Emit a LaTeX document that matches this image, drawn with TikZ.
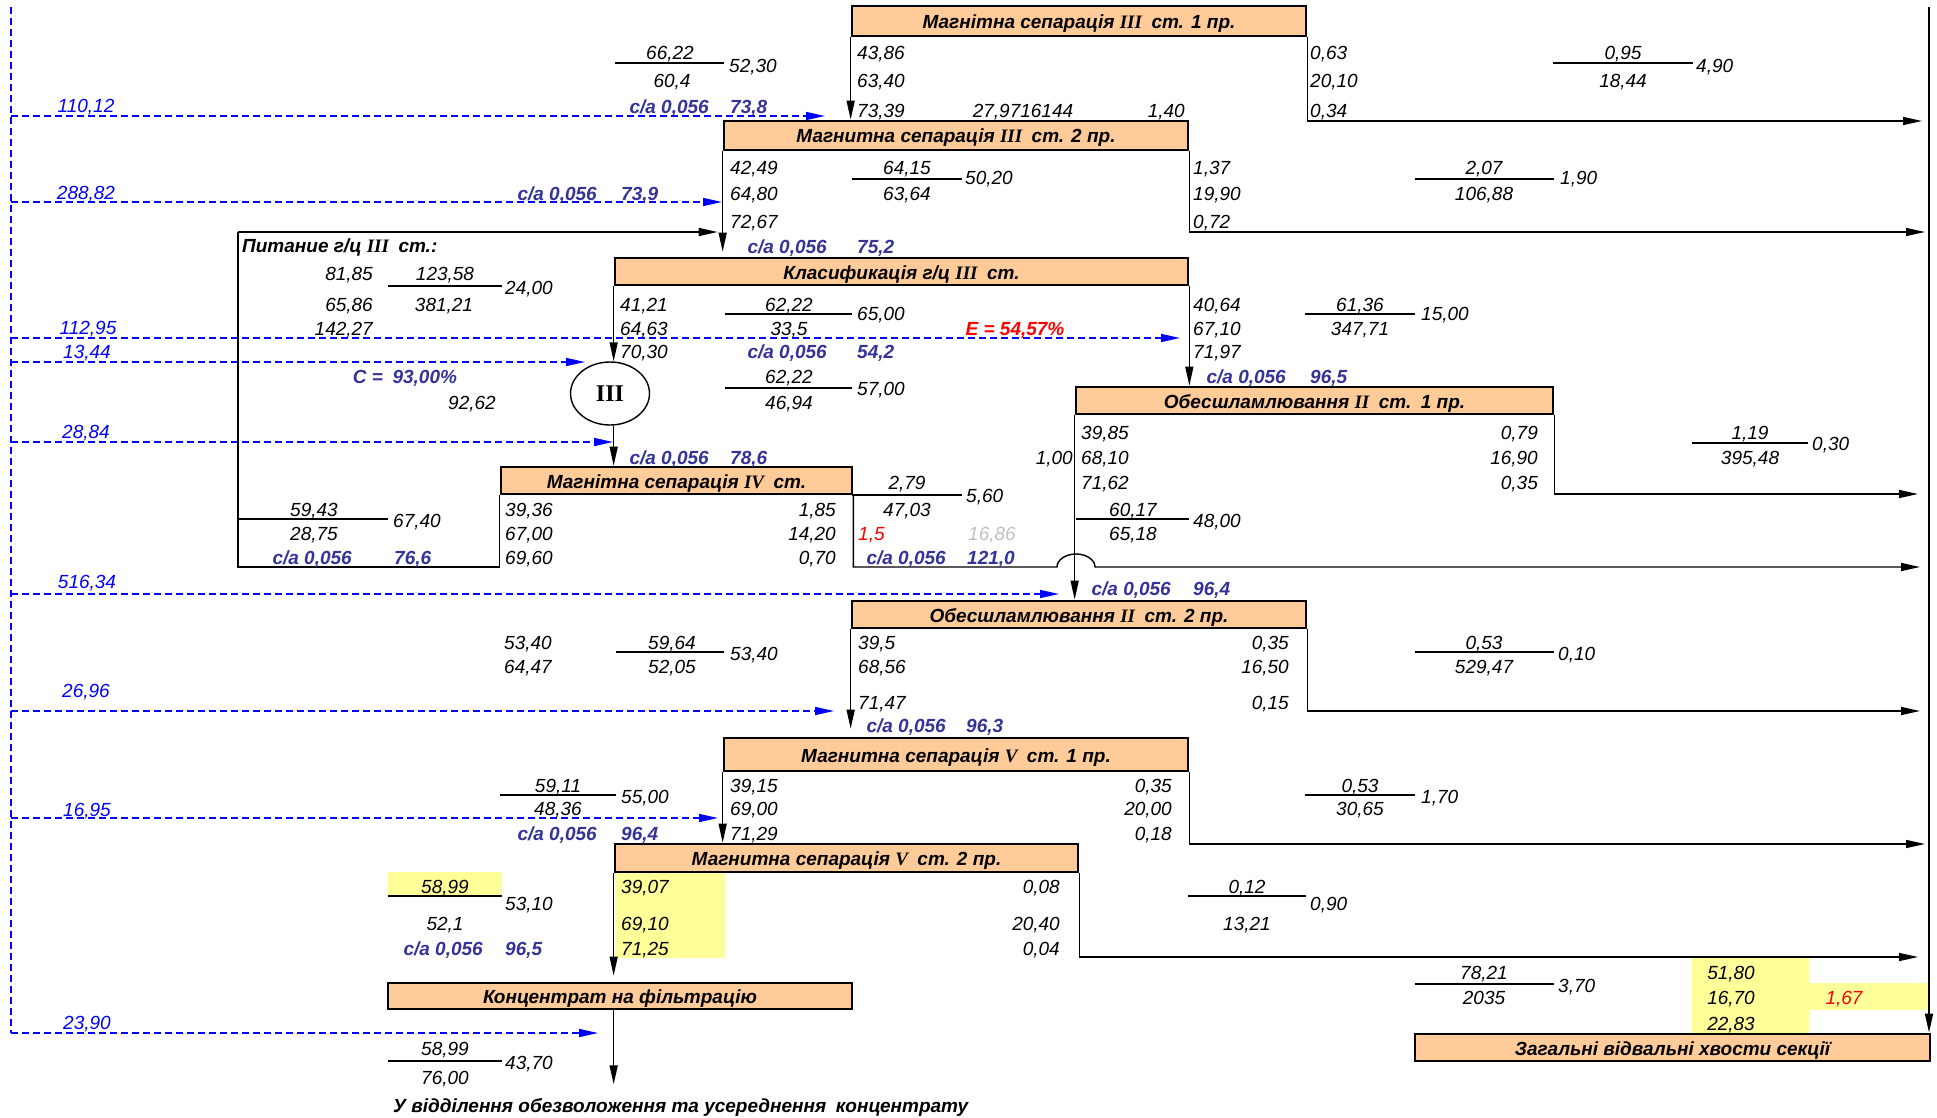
\documentclass[tikz,border=0pt]{standalone}
\usepackage{fontspec}
\setmainfont{Liberation Sans}
\newfontfamily\romfam{Liberation Serif}
\usepackage{tikz}
\usetikzlibrary{arrows.meta,shapes.geometric}
\definecolor{StagePeach}{HTML}{FFCC99}
\definecolor{WaterBlue}{HTML}{0000FF}
\definecolor{SaBlue}{HTML}{333399}
\definecolor{MarkYellow}{HTML}{FFFF99}
\definecolor{MarkRed}{HTML}{FF0000}
\definecolor{NoteGray}{HTML}{C0C0C0}
\newcommand\numsize{\fontsize{19}{22}\selectfont}
\newcommand\rom[1]{{\romfam #1}}
\tikzset{
  stagebox/.style={draw=black,line width=2.7pt,fill=StagePeach,inner sep=0pt,
    text height=15pt,text depth=0pt,font=\numsize\bfseries\itshape},
  num/.style={inner sep=0pt,text height=16pt,text depth=1pt,font=\numsize\itshape},
  numw/.style={num,anchor=west},
  nume/.style={num,anchor=east},
  sa/.style={num,font=\numsize\bfseries\itshape,text=SaBlue},
  waterval/.style={num,text=WaterBlue},
  flow/.style={-{Triangle[length=19pt,width=8pt]},line width=1.4pt},
  tail/.style={line width=1.4pt},
  water/.style={-{Triangle[length=19pt,width=8pt]},draw=WaterBlue,line width=1.5pt,
    dash pattern=on 7pt off 4pt},
  waterbus/.style={draw=WaterBlue,line width=1.5pt,dash pattern=on 7pt off 4pt},
  fracline/.style={line width=2pt},
  hilite/.style={fill=MarkYellow,draw=none}
}
\begin{document}
\begin{tikzpicture}[x=1pt,y=-1pt]
  \useasboundingbox (0,0) rectangle (1937,1118);
  \fill[hilite] (388,872) rectangle (502,895);
  \fill[hilite] (615,872) rectangle (725,958);
  \fill[hilite] (1692,958) rectangle (1809,1033);
  \fill[hilite] (1809,983) rectangle (1930,1010);

  \node[stagebox,minimum width=454pt,minimum height=30pt] (ms31) at (1079,21) {Магнітна сепарація \rom{III}\enspace ст. 1 пр.};
  \node[stagebox,minimum width=464pt,minimum height=29pt] (ms32) at (956,135.5) {Магнитна сепарація \rom{III}\enspace ст. 2 пр.};
  \node[stagebox,minimum width=573pt,minimum height=27pt] (cls3) at (901.5,271.5) {Класификація г/ц \rom{III}\enspace ст.};
  \node[stagebox,minimum width=477pt,minimum height=27pt] (des21) at (1314.5,400.5) {Обесшламлювання \rom{II}\enspace ст.\enspace 1 пр.};
  \node[stagebox,minimum width=351pt,minimum height=27pt] (ms4) at (676.5,480.5) {Магнітна сепарація \rom{IV}\enspace ст.};
  \node[stagebox,minimum width=454pt,minimum height=27pt] (des22) at (1079,614.5) {Обесшламлювання \rom{II}\enspace ст. 2 пр.};
  \node[stagebox,minimum width=464pt,minimum height=33pt] (ms51) at (956,754.5) {Магнитна сепарація \rom{V}\enspace ст. 1 пр.};
  \node[stagebox,minimum width=463pt,minimum height=28pt] (ms52) at (846.5,858) {Магнитна сепарація \rom{V}\enspace ст. 2 пр.};
  \node[stagebox,minimum width=464pt,minimum height=26pt] (conc) at (620,996) {Концентрат на фільтрацію};
  \node[stagebox,minimum width=515pt,minimum height=27pt] (tails) at (1672.5,1047.5) {Загальні відвальні хвости секції};
  \node[ellipse,draw,line width=1.4pt,minimum width=79pt,minimum height=63pt,inner sep=0pt,
    font=\fontsize{24}{24}\selectfont\romfam\bfseries] (hc3) at (610,393.5) {III};
  \node[numw,font=\numsize\bfseries\itshape] (dest) at (393,1105) {У відділення обезволоження та усереднення\enspace концентрату};
  \node[numw,font=\numsize\bfseries\itshape] (feed) at (242,245) {Питание г/ц \rom{III}\enspace ст.:};

  \coordinate (busN) at (1929,7);
  \coordinate (wN) at (11,7);
  \coordinate (wS) at (11,1033);
  \coordinate (feedN) at (238,232);
  \coordinate (feedS) at (238,567);
  \coordinate (hop) at (1057,567);
  \coordinate (out1) at (1922,121);
  \coordinate (out2) at (1925,232);
  \coordinate (out3) at (1918,494);
  \coordinate (out4) at (1920,567);
  \coordinate (out5) at (1920,711);
  \coordinate (out6) at (1925,844);
  \coordinate (out7) at (1918,957);
  \coordinate (w1) at (825,116);
  \coordinate (w2) at (722,202);
  \coordinate (w3) at (1180,338);
  \coordinate (w4) at (585,362);
  \coordinate (w5) at (613,442);
  \coordinate (w6) at (1059,594);
  \coordinate (w7) at (834,711);
  \coordinate (w8) at (718,818);
  \coordinate (w9) at (598,1033);

  \draw[waterbus] (wN) -- (wS);
  \draw[water] (wN |- w1) -- (w1);
  \draw[water] (wN |- w2) -- (w2);
  \draw[water] (wN |- w3) -- (w3);
  \draw[water] (wN |- w4) -- (w4);
  \draw[water] (wN |- w5) -- (w5);
  \draw[water] (wN |- w6) -- (w6);
  \draw[water] (wN |- w7) -- (w7);
  \draw[water] (wN |- w8) -- (w8);
  \draw[water] (wS) -- (w9);

  \draw[flow] (ms31.south west) -- (ms31.south west |- ms32.north);
  \draw[flow] (ms32.south west) -- ([yshift=5pt]ms32.south west |- cls3.north);
  \draw[flow] (feedN) -- ([xshift=-5pt]ms32.south west |- feedN);
  \draw[tail] (feedN) -- (feedS) -- (ms4.south west |- feedS) -- (ms4.south west);
  \draw[flow] (cls3.south west) -- (cls3.south west |- hc3.north);
  \draw[flow] (cls3.south west |- hc3.south) -- (cls3.south west |- ms4.north);
  \draw[flow] (cls3.south east) -- (cls3.south east |- des21.north);
  \draw[flow] (des21.south west) -- (des21.south west |- des22.north);
  \draw[flow] (des22.south west) -- ([yshift=8pt]des22.south west |- ms51.north);
  \draw[flow] (ms51.south west) -- (ms51.south west |- ms52.north);
  \draw[flow] (ms52.south west) -- ([yshift=6pt]ms52.south west |- conc.north);
  \draw[flow] (ms52.south west |- conc.south) -- ([yshift=12pt]ms52.south west |- dest.north);
  \draw[flow] (busN) -- (busN |- tails.north);

  \draw[flow] (ms31.south east) |- (out1);
  \draw[flow] (ms32.south east) |- (out2);
  \draw[flow] (des21.south east) |- (out3);
  \draw[flow] (ms4.south east) |- (hop) arc[start angle=180,end angle=0,x radius=19pt,y radius=13pt] -- (out4);
  \draw[flow] (des22.south east) |- (out5);
  \draw[flow] (ms51.south east) |- (out6);
  \draw[flow] (ms52.south east) |- (out7);

  \draw[fracline] (615,63) -- (724,63);
  \draw[fracline] (1553,63) -- (1693,63);
  \draw[fracline] (852,179) -- (962,179);
  \draw[fracline] (1415,179) -- (1554,179);
  \draw[fracline] (388,286) -- (502,286);
  \draw[fracline] (725,314) -- (852,314);
  \draw[fracline] (1305,314) -- (1415,314);
  \draw[fracline] (725,388) -- (852,388);
  \draw[fracline] (1692,443) -- (1808,443);
  \draw[fracline] (852,495) -- (962,495);
  \draw[fracline] (238,519) -- (388,519);
  \draw[fracline] (1076,519) -- (1189,519);
  \draw[fracline] (616,652) -- (724,652);
  \draw[fracline] (1415,652) -- (1554,652);
  \draw[fracline] (500,795) -- (616,795);
  \draw[fracline] (1305,795) -- (1415,795);
  \draw[fracline] (388,896) -- (502,896);
  \draw[fracline] (1188,896) -- (1306,896);
  \draw[fracline] (1415,984) -- (1554,984);
  \draw[fracline] (388,1061) -- (502,1061);

  \node[waterval] (f1) at (86,105) {110,12};
  \node[waterval] (f2) at (86,192) {288,82};
  \node[waterval] (f3) at (88,327) {112,95};
  \node[waterval] (f4) at (87,351) {13,44};
  \node[waterval] (f5) at (86,431) {28,84};
  \node[waterval] (f6) at (87,581) {516,34};
  \node[waterval] (f7) at (86,690) {26,96};
  \node[waterval] (f8) at (87,809) {16,95};
  \node[waterval] (f9) at (87,1022) {23,90};

  \node[num] (a1) at (670,52) {66,22};
  \node[num] (a2) at (672,80) {60,4};
  \node[numw] (a3) at (729,65) {52,30};
  \node[sa,anchor=east] (a4) at (709,106) {с/а 0,056};
  \node[sa,anchor=west] (a5) at (730,106) {73,8};
  \node[numw] (c31a) at (857,52) {43,86};
  \node[numw] (c31b) at (857,80) {63,40};
  \node[numw] (c31c) at (857,110) {73,39};
  \node[num] (c31d) at (1023,110) {27,9716144};
  \node[nume] (c31e) at (1185,110) {1,40};
  \node[numw] (t31a) at (1310,52) {0,63};
  \node[numw] (t31b) at (1310,80) {20,10};
  \node[numw] (t31c) at (1310,110) {0,34};
  \node[num] (b1) at (1623,52) {0,95};
  \node[num] (b2) at (1623,80) {18,44};
  \node[numw] (b3) at (1696,65) {4,90};

  \node[sa,anchor=east] (d1) at (597,193) {с/а 0,056};
  \node[sa,anchor=west] (d2) at (621,193) {73,9};
  \node[numw] (c32a) at (730,167) {42,49};
  \node[numw] (c32b) at (730,193) {64,80};
  \node[numw] (c32c) at (730,221) {72,67};
  \node[num] (e1) at (907,167) {64,15};
  \node[num] (e2) at (907,193) {63,64};
  \node[numw] (e3) at (965,177) {50,20};
  \node[numw] (t32a) at (1193,167) {1,37};
  \node[numw] (t32b) at (1193,193) {19,90};
  \node[numw] (t32c) at (1193,221) {0,72};
  \node[num] (g1) at (1484,167) {2,07};
  \node[num] (g2) at (1484,193) {106,88};
  \node[numw] (g3) at (1560,177) {1,90};
  \node[sa,anchor=east] (h1) at (827,246) {с/а 0,056};
  \node[sa,anchor=west] (h2) at (857,246) {75,2};

  \node[nume] (p1) at (373,273) {81,85};
  \node[num] (p2) at (445,273) {123,58};
  \node[numw] (p3) at (505,287) {24,00};
  \node[nume] (p4) at (373,304) {65,86};
  \node[num] (p5) at (444,304) {381,21};
  \node[nume] (p6) at (373,328) {142,27};
  \node[sa] (p7) at (405,376) {C =\enspace 93,00\%};
  \node[num] (p8) at (472,402) {92,62};

  \node[numw] (k1) at (620,304) {41,21};
  \node[numw] (k2) at (620,328) {64,63};
  \node[numw] (k3) at (620,351) {70,30};
  \node[num] (k4) at (789,304) {62,22};
  \node[num] (k5) at (789,328) {33,5};
  \node[numw] (k6) at (857,313) {65,00};
  \node[num,font=\numsize\bfseries\itshape,text=MarkRed] (k7) at (1015,328) {E = 54,57\%};
  \node[sa,anchor=east] (k8) at (827,351) {с/а 0,056};
  \node[sa,anchor=west] (k9) at (857,351) {54,2};
  \node[num] (k10) at (789,376) {62,22};
  \node[num] (k11) at (789,402) {46,94};
  \node[numw] (k12) at (857,388) {57,00};
  \node[numw] (k13) at (1193,304) {40,64};
  \node[numw] (k14) at (1193,328) {67,10};
  \node[numw] (k15) at (1193,351) {71,97};
  \node[num] (k16) at (1360,304) {61,36};
  \node[num] (k17) at (1360,328) {347,71};
  \node[numw] (k18) at (1421,313) {15,00};
  \node[sa,anchor=east] (k19) at (1286,376) {с/а 0,056};
  \node[sa,anchor=west] (k20) at (1310,376) {96,5};

  \node[sa,anchor=east] (m1) at (709,457) {с/а 0,056};
  \node[sa,anchor=west] (m2) at (730,457) {78,6};
  \node[numw] (c21a) at (1081,432) {39,85};
  \node[nume] (c21b) at (1073,457) {1,00};
  \node[numw] (c21c) at (1081,457) {68,10};
  \node[numw] (c21d) at (1081,482) {71,62};
  \node[nume] (t21a) at (1538,432) {0,79};
  \node[nume] (t21b) at (1538,457) {16,90};
  \node[nume] (t21c) at (1538,482) {0,35};
  \node[num] (m3) at (1750,432) {1,19};
  \node[num] (m4) at (1750,457) {395,48};
  \node[numw] (m5) at (1812,443) {0,30};
  \node[num] (m6) at (907,482) {2,79};
  \node[num] (m7) at (907,509) {47,03};
  \node[numw] (m8) at (966,495) {5,60};

  \node[num] (q1) at (314,509) {59,43};
  \node[num] (q2) at (314,533) {28,75};
  \node[numw] (q3) at (393,520) {67,40};
  \node[sa,anchor=east] (q4) at (352,557) {с/а 0,056};
  \node[sa,anchor=west] (q5) at (394,557) {76,6};
  \node[numw] (c4a) at (505,509) {39,36};
  \node[numw] (c4b) at (505,533) {67,00};
  \node[numw] (c4c) at (505,557) {69,60};
  \node[nume] (t4a) at (836,509) {1,85};
  \node[nume] (t4b) at (836,533) {14,20};
  \node[nume] (t4c) at (836,557) {0,70};
  \node[numw,text=MarkRed] (t4d) at (858,533) {1,5};
  \node[numw,text=NoteGray] (t4e) at (968,533) {16,86};
  \node[sa,anchor=east] (t4f) at (946,557) {с/а 0,056};
  \node[sa,anchor=west] (t4g) at (967,557) {121,0};
  \node[num] (r1) at (1133,509) {60,17};
  \node[num] (r2) at (1133,533) {65,18};
  \node[numw] (r3) at (1193,520) {48,00};
  \node[sa,anchor=east] (r4) at (1171,588) {с/а 0,056};
  \node[sa,anchor=west] (r5) at (1193,588) {96,4};

  \node[num] (s1) at (528,642) {53,40};
  \node[num] (s2) at (528,666) {64,47};
  \node[num] (s3) at (672,642) {59,64};
  \node[num] (s4) at (672,666) {52,05};
  \node[numw] (s5) at (730,653) {53,40};
  \node[numw] (c22a) at (858,642) {39,5};
  \node[numw] (c22b) at (858,666) {68,56};
  \node[numw] (c22c) at (858,702) {71,47};
  \node[nume] (t22a) at (1289,642) {0,35};
  \node[nume] (t22b) at (1289,666) {16,50};
  \node[nume] (t22c) at (1289,702) {0,15};
  \node[num] (s6) at (1484,642) {0,53};
  \node[num] (s7) at (1484,666) {529,47};
  \node[numw] (s8) at (1558,653) {0,10};
  \node[sa,anchor=east] (s9) at (946,725) {с/а 0,056};
  \node[sa,anchor=west] (s10) at (966,725) {96,3};

  \node[num] (u1) at (558,785) {59,11};
  \node[num] (u2) at (558,808) {48,36};
  \node[numw] (u3) at (621,796) {55,00};
  \node[sa,anchor=east] (u4) at (597,833) {с/а 0,056};
  \node[sa,anchor=west] (u5) at (621,833) {96,4};
  \node[numw] (c51a) at (730,785) {39,15};
  \node[numw] (c51b) at (730,808) {69,00};
  \node[numw] (c51c) at (730,833) {71,29};
  \node[nume] (t51a) at (1172,785) {0,35};
  \node[nume] (t51b) at (1172,808) {20,00};
  \node[nume] (t51c) at (1172,833) {0,18};
  \node[num] (u6) at (1360,785) {0,53};
  \node[num] (u7) at (1360,808) {30,65};
  \node[numw] (u8) at (1421,796) {1,70};

  \node[num] (x1) at (445,886) {58,99};
  \node[numw] (x2) at (505,903) {53,10};
  \node[num] (x3) at (445,923) {52,1};
  \node[sa,anchor=east] (x4) at (483,948) {с/а 0,056};
  \node[sa,anchor=west] (x5) at (505,948) {96,5};
  \node[numw] (c52a) at (621,886) {39,07};
  \node[numw] (c52b) at (621,923) {69,10};
  \node[numw] (c52c) at (621,948) {71,25};
  \node[nume] (t52a) at (1060,886) {0,08};
  \node[nume] (t52b) at (1060,923) {20,40};
  \node[nume] (t52c) at (1060,948) {0,04};
  \node[num] (x6) at (1247,886) {0,12};
  \node[num] (x7) at (1247,923) {13,21};
  \node[numw] (x8) at (1310,903) {0,90};

  \node[num] (y1) at (1484,972) {78,21};
  \node[num] (y2) at (1484,997) {2035};
  \node[numw] (y3) at (1558,985) {3,70};
  \node[num] (y4) at (1731,972) {51,80};
  \node[num] (y5) at (1731,997) {16,70};
  \node[num] (y6) at (1731,1023) {22,83};
  \node[num,text=MarkRed] (y7) at (1844,997) {1,67};
  \node[num] (z1) at (445,1048) {58,99};
  \node[num] (z2) at (445,1077) {76,00};
  \node[numw] (z3) at (505,1062) {43,70};
\end{tikzpicture}
\end{document}
